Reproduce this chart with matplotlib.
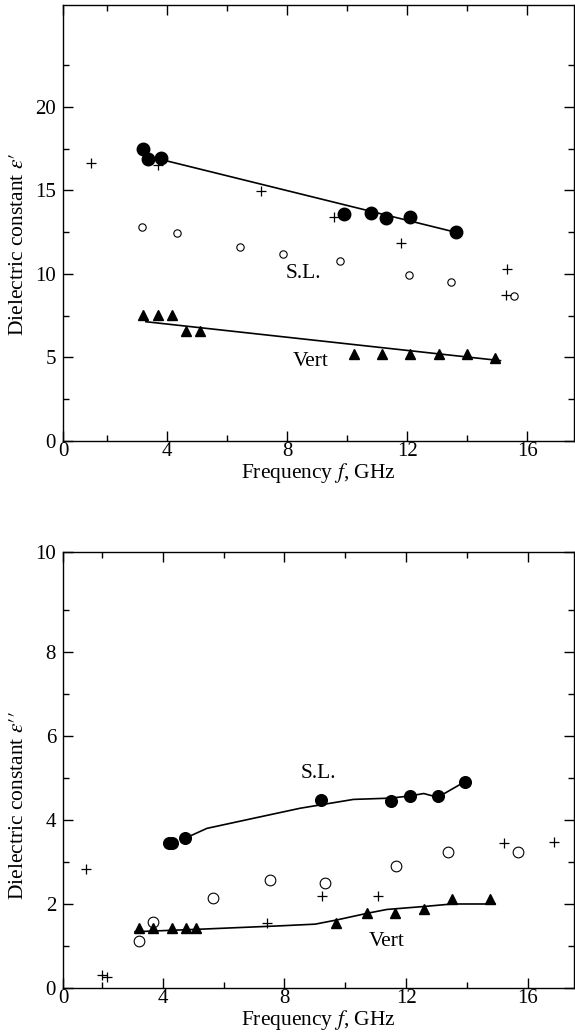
import matplotlib
matplotlib.use("Agg")
import matplotlib.pyplot as plt
from matplotlib.ticker import FixedLocator

plt.rcParams['font.family'] = ['Liberation Serif', 'DejaVu Serif']
plt.rcParams['mathtext.fontset'] = 'stix'

## Upper panel: real part eps'
sl_fill_f = [3.19, 3.36, 3.81, 9.88, 10.80, 11.29, 12.08, 13.62]
sl_fill_e = [17.49, 16.89, 16.93, 13.57, 13.63, 13.33, 13.39, 12.53]
sl_fit_f = [3.8, 13.6]
sl_fit_e = [16.85, 12.5]
sl_open_f = [3.16, 4.34, 6.43, 7.86, 9.74, 12.04, 13.44, 15.54]
sl_open_e = [12.83, 12.43, 11.60, 11.20, 10.78, 9.94, 9.50, 8.70]
plus_f = [1.46, 3.71, 7.13, 9.54, 11.80, 15.32, 15.27]
plus_e = [16.63, 16.53, 14.99, 13.43, 11.83, 10.28, 8.74]
vert_f = [3.21, 3.68, 4.16, 4.62, 5.10, 10.21, 11.16, 12.10, 13.04, 13.97, 14.91]
vert_e = [7.54, 7.54, 7.54, 6.60, 6.60, 5.21, 5.21, 5.21, 5.21, 5.21, 4.95]
vert_fit_f = [3.29, 15.1]
vert_fit_e = [7.14, 4.81]

## Lower panel: imaginary part eps''
sl2_fill_f = [4.19, 4.30, 4.74, 9.21, 11.51, 12.12, 13.04, 13.93]
sl2_fill_e = [3.46, 3.46, 3.56, 4.48, 4.45, 4.57, 4.57, 4.91]
sl2_curve_f = [4.75, 5.45, 6.98, 8.52, 10.27, 11.48, 12.10, 12.58, 13.04, 13.93]
sl2_curve_e = [3.57, 3.80, 4.04, 4.28, 4.49, 4.52, 4.57, 4.63, 4.54, 4.91]
open2_f = [3.23, 3.67, 5.65, 7.51, 9.34, 11.68, 13.37, 15.67]
open2_e = [1.13, 1.58, 2.14, 2.57, 2.49, 2.90, 3.23, 3.23]
plus2_f = [1.48, 2.00, 2.16, 7.42, 9.25, 11.06, 15.23, 16.85]
plus2_e = [2.83, 0.31, 0.27, 1.54, 2.19, 2.20, 3.46, 3.48]
vert2_f = [3.23, 3.69, 4.30, 4.76, 5.10, 9.70, 10.73, 11.64, 12.58, 13.51, 14.75]
vert2_e = [1.44, 1.44, 1.44, 1.44, 1.44, 1.55, 1.79, 1.79, 1.88, 2.11, 2.11]
vert2_curve_f = [3.09, 5.23, 7.86, 9.01, 9.72, 10.73, 11.37, 12.58, 13.51, 14.93]
vert2_curve_e = [1.34, 1.40, 1.48, 1.52, 1.62, 1.78, 1.87, 1.94, 2.00, 2.00]

W, H = 575, 1036
fig = plt.figure(figsize=(W / 100, H / 100), dpi=100)
ax1 = fig.add_axes([63 / W, 1 - 441 / H, 511 / W, 436 / H])
ax2 = fig.add_axes([63 / W, 1 - 988 / H, 511 / W, 436 / H])

FS = 15
LFS = 15.5


def style_axes(ax, x0, x1, y1, ymajor, yminor, ylabels):
    ax.set_xlim(x0, x1)
    ax.set_ylim(0, y1)
    ax.xaxis.set_major_locator(FixedLocator([x0, 4, 8, 12, 16]))
    ax.set_xticklabels(['0', '4', '8', '12', '16'])
    ax.xaxis.set_minor_locator(FixedLocator([2, 6, 10, 14]))
    ax.yaxis.set_major_locator(FixedLocator(ymajor))
    ax.set_yticklabels(ylabels)
    ax.yaxis.set_minor_locator(FixedLocator(yminor))
    ax.tick_params(which='both', direction='in', top=True, right=True,
                   labelsize=FS, width=1.0)
    ax.tick_params(which='major', length=7)
    ax.tick_params(which='minor', length=4.5)
    ax.tick_params(axis='x', pad=1)
    ax.tick_params(axis='y', pad=5)
    for s in ax.spines.values():
        s.set_linewidth(1.0)
    ax.set_xlabel('Frequency $f$, GHz', fontsize=LFS, labelpad=0)


ax = ax1
ax.plot(sl_fit_f, sl_fit_e, color='black', lw=1.2)
ax.plot(vert_fit_f, vert_fit_e, color='black', lw=1.2)
ax.plot(sl_fill_f, sl_fill_e, 'o', color='black', ms=9)
ax.plot(sl_open_f, sl_open_e, 'o', mfc='white', mec='black', ms=5.3, mew=0.8)
ax.plot(plus_f, plus_e, '+', color='black', ms=7, mew=0.9)
ax.plot(vert_f, vert_e, '^', color='black', ms=7.5)
ax.text(8.54, 10.04, 'S.L.', fontsize=LFS, ha='center', va='center')
ax.text(8.77, 4.75, 'Vert', fontsize=LFS, ha='center', va='center')
style_axes(ax, 0.53, 17.55, 26.1, [0, 5, 10, 15, 20],
           [2.5, 7.5, 12.5, 17.5, 22.5], ['0', '5', '10', '15', '20'])
ax.set_ylabel("Dielectric constant $\\varepsilon\\prime$", fontsize=LFS)
ax.yaxis.set_label_coords(-0.068, 0.45)

ax = ax2
ax.plot(sl2_curve_f, sl2_curve_e, color='black', lw=1.2)
ax.plot(vert2_curve_f, vert2_curve_e, color='black', lw=1.2)
ax.plot(sl2_fill_f, sl2_fill_e, 'o', color='black', ms=8.4)
ax.plot(open2_f, open2_e, 'o', mfc='white', mec='black', ms=7.7, mew=0.8)
ax.plot(plus2_f, plus2_e, '+', color='black', ms=7, mew=0.9)
ax.plot(vert2_f, vert2_e, '^', color='black', ms=6.8)
ax.text(9.12, 5.11, 'S.L.', fontsize=LFS, ha='center', va='center')
ax.text(11.35, 1.10, 'Vert', fontsize=LFS, ha='center', va='center')
style_axes(ax, 0.72, 17.52, 10.38, [0, 2, 4, 6, 8, 10.38],
           [1, 3, 5, 7, 9], ['0', '2', '4', '6', '8', '10'])
ax.set_ylabel("Dielectric constant $\\varepsilon\\prime\\prime$", fontsize=LFS)
ax.yaxis.set_label_coords(-0.068, 0.42)

fig.savefig('out.png', dpi=100)
